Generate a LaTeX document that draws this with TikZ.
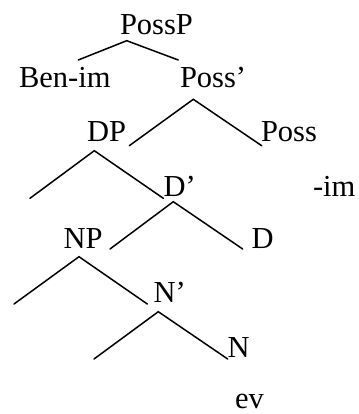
\documentclass[tikz,border=0pt]{standalone}
\usepackage{fontspec}
\setmainfont{Liberation Serif}
\begin{document}
\begin{tikzpicture}[x=1pt,y=-1pt,
  lbl/.style={anchor=base west,inner sep=0pt,outer sep=0pt,font=\fontsize{30.5}{35}\selectfont},
  branch/.style={line width=1.5pt,line cap=round,line join=miter}]
\useasboundingbox (0,0) rectangle (358,414);
% labels
\node[lbl] (possp) at (120,35) {PossP};
\node[lbl] (benim) at (19,88) {Ben-im};
\node[lbl] (possbar) at (180,88) {Poss’};
\node[lbl] (dp) at (87,141.7) {DP};
\node[lbl] (poss) at (261,141.7) {Poss};
\node[lbl] (dbar) at (163.5,196) {D’};
\node[lbl] (im) at (313,196) {-im};
\node[lbl] (np) at (63.5,248.3) {NP};
\node[lbl] (d) at (251.5,248.3) {D};
\node[lbl] (nbar) at (153.5,302.7) {N’};
\node[lbl] (n) at (227.5,357.3) {N};
\node[lbl] (ev) at (235,408.3) {ev};
% branch points
\coordinate (a1) at (126.7,40.7);
\coordinate (a1l) at (78.3,60);
\coordinate (a1r) at (178.3,60);
\coordinate (a2) at (193.3,99.3);
\coordinate (a2l) at (129.3,145.7);
\coordinate (a2r) at (261.7,145.7);
\coordinate (a3) at (94.3,150.7);
\coordinate (a3l) at (30,198.3);
\coordinate (a3r) at (163.3,198.3);
\coordinate (a4) at (173.3,201.7);
\coordinate (a4l) at (110,249);
\coordinate (a4r) at (242.7,249);
\coordinate (a5) at (79,256.7);
\coordinate (a5l) at (14,304);
\coordinate (a5r) at (147.3,304);
\coordinate (a6) at (158.3,311.7);
\coordinate (a6l) at (94,359);
\coordinate (a6r) at (227.7,359);
\draw[branch] (a1l) -- (a1) -- (a1r);
\draw[branch] (a2l) -- (a2) -- (a2r);
\draw[branch] (a3l) -- (a3) -- (a3r);
\draw[branch] (a4l) -- (a4) -- (a4r);
\draw[branch] (a5l) -- (a5) -- (a5r);
\draw[branch] (a6l) -- (a6) -- (a6r);
\end{tikzpicture}
\end{document}
